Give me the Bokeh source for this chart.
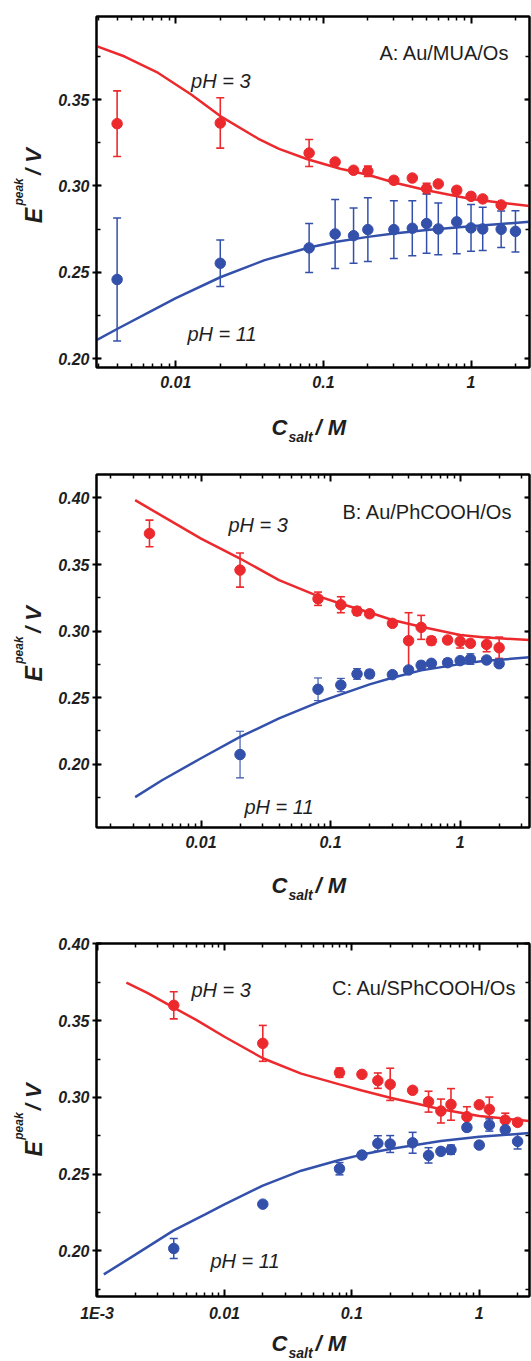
import math
from bokeh.plotting import figure
from bokeh.layouts import column, row
from bokeh.models import (ColumnDataSource, Whisker, TeeHead, Label, FixedTicker,
                          LogAxis, LinearAxis, CustomJSTickFormatter, PrintfTickFormatter,
                          SingleIntervalTicker, Range1d)
from bokeh.embed import file_html
from bokeh.resources import INLINE

# ---------------- data ----------------
# Panel A: Au/MUA/Os
xA_red = [0.004, 0.02, 0.08, 0.12, 0.16, 0.2, 0.3, 0.4, 0.5, 0.6, 0.8, 1.0, 1.2, 1.6]
yA_red = [0.3361, 0.3365, 0.3191, 0.3139, 0.3091, 0.3085, 0.3033, 0.3046, 0.2985, 0.3012, 0.2975, 0.2940, 0.2925, 0.2890]
eA_red = [0.019, 0.0146, 0.0078, 0.0, 0.0, 0.003, 0.002, 0.0, 0.003, 0.0, 0.002, 0.0, 0.0, 0.0]
xA_blue = [0.004, 0.02, 0.08, 0.12, 0.16, 0.2, 0.3, 0.4, 0.5, 0.6, 0.8, 1.0, 1.2, 1.6, 2.0]
yA_blue = [0.2458, 0.2552, 0.2641, 0.2722, 0.2712, 0.2747, 0.2747, 0.2755, 0.2782, 0.2751, 0.2792, 0.2757, 0.2751, 0.2749, 0.2737]
eA_blue = [0.0357, 0.0135, 0.0142, 0.020, 0.016, 0.0185, 0.0167, 0.016, 0.0172, 0.015, 0.0185, 0.0135, 0.0125, 0.0106, 0.012]
fitA_red_x = [0.0029, 0.0045, 0.0076, 0.0127, 0.02, 0.036, 0.05, 0.078, 0.13, 0.2, 0.3, 0.5, 1.0, 1.6, 2.49]
fitA_red_y = [0.381, 0.375, 0.3655, 0.353, 0.3405, 0.3275, 0.3215, 0.3155, 0.310, 0.3065, 0.302, 0.2975, 0.2925, 0.2903, 0.2884]
fitA_blue_x = [0.0029, 0.004, 0.007, 0.01, 0.02, 0.04, 0.08, 0.12, 0.2, 0.3, 0.5, 1.0, 2.49]
fitA_blue_y = [0.2106, 0.2171, 0.228, 0.235, 0.2471, 0.257, 0.2643, 0.2675, 0.2705, 0.2725, 0.2745, 0.2766, 0.2792]

# Panel B: Au/PhCOOH/Os
xB_red = [0.004, 0.02, 0.08, 0.12, 0.16, 0.2, 0.3, 0.4, 0.5, 0.6, 0.8, 1.0, 1.2, 1.6, 2.0]
yB_red = [0.3733, 0.3458, 0.3243, 0.3198, 0.3150, 0.3130, 0.3058, 0.2928, 0.3028, 0.2928, 0.2933, 0.2923, 0.2908, 0.2900, 0.2875]
eB_red = [0.010, 0.0128, 0.005, 0.006, 0.003, 0.002, 0.002, 0.021, 0.009, 0.003, 0.002, 0.005, 0.002, 0.0055, 0.008]
xB_blue = [0.02, 0.08, 0.12, 0.16, 0.2, 0.3, 0.4, 0.5, 0.6, 0.8, 1.0, 1.2, 1.6, 2.0]
yB_blue = [0.2073, 0.2563, 0.2595, 0.2678, 0.2678, 0.2673, 0.2708, 0.2743, 0.2758, 0.2763, 0.2778, 0.2790, 0.2783, 0.2755]
eB_blue = [0.0175, 0.0085, 0.005, 0.004, 0.003, 0.002, 0.002, 0.003, 0.002, 0.003, 0.002, 0.004, 0.002, 0.002]
fitB_red_x = [0.0031, 0.005, 0.01, 0.02, 0.04, 0.08, 0.12, 0.2, 0.3, 0.5, 1.0, 1.5, 3.43]
fitB_red_y = [0.3983, 0.3865, 0.3695, 0.3545, 0.3383, 0.3263, 0.3205, 0.3140, 0.3083, 0.3033, 0.2970, 0.2953, 0.2933]
fitB_blue_x = [0.0031, 0.005, 0.01, 0.02, 0.04, 0.08, 0.12, 0.2, 0.3, 0.5, 1.0, 1.5, 3.43]
fitB_blue_y = [0.1753, 0.188, 0.2045, 0.2205, 0.2345, 0.2465, 0.2525, 0.2600, 0.2650, 0.2705, 0.2752, 0.2775, 0.2803]

# Panel C: Au/SPhCOOH/Os
xC_red = [0.004, 0.02, 0.08, 0.12, 0.16, 0.2, 0.3, 0.4, 0.5, 0.6, 0.8, 1.0, 1.2, 1.6, 2.0]
yC_red = [0.3600, 0.3352, 0.3161, 0.3150, 0.3109, 0.3085, 0.3046, 0.2972, 0.2911, 0.2954, 0.2874, 0.2952, 0.2922, 0.2852, 0.2837]
eC_red = [0.0088, 0.0117, 0.003, 0.0, 0.005, 0.0105, 0.0, 0.0068, 0.0078, 0.0103, 0.0065, 0.0, 0.008, 0.0045, 0.002]
xC_blue = [0.004, 0.02, 0.08, 0.12, 0.16, 0.2, 0.3, 0.4, 0.5, 0.6, 0.8, 1.0, 1.2, 1.6, 2.0]
yC_blue = [0.2015, 0.2304, 0.2535, 0.2624, 0.2700, 0.2696, 0.2704, 0.2622, 0.2648, 0.2659, 0.2804, 0.2689, 0.2820, 0.2789, 0.2713]
eC_blue = [0.0065, 0.0, 0.004, 0.002, 0.005, 0.0055, 0.0068, 0.005, 0.002, 0.003, 0.002, 0.002, 0.004, 0.002, 0.005]
fitC_red_x = [0.0017, 0.0025, 0.004, 0.006, 0.01, 0.02, 0.04, 0.08, 0.12, 0.2, 0.3, 0.5, 1.0, 2.48]
fitC_red_y = [0.3748, 0.368, 0.3585, 0.3505, 0.3395, 0.3255, 0.3155, 0.3085, 0.3045, 0.2998, 0.2965, 0.2922, 0.2878, 0.2846]
fitC_blue_x = [0.00113, 0.002, 0.004, 0.007, 0.01, 0.02, 0.04, 0.08, 0.12, 0.2, 0.5, 1.0, 2.48]
fitC_blue_y = [0.1846, 0.1975, 0.2133, 0.2235, 0.2302, 0.2425, 0.2522, 0.2592, 0.2627, 0.2663, 0.2715, 0.2743, 0.2767]

x_tick_values = [0.001, 0.01, 0.1, 1.0]
x_tick_labels = ["1E-3", "0.01", "0.1", "1"]
x_minor_ticks = [m * 10.0 ** e for e in (-4, -3, -2, -1, 0) for m in range(2, 10)]

panel_titles = ["A: Au/MUA/Os", "B: Au/PhCOOH/Os", "C: Au/SPhCOOH/Os"]
label_low = "pH = 3"
label_high = "pH = 11"

RED = "#ec2a2e"
BLUE = "#3350ab"
TXT = "#1e1e1e"
FONT = "Liberation Sans"

W = 531
STRIP_W = 55


def blank_fig(w, h):
    f = figure(width=w, height=h, x_range=Range1d(0, w), y_range=Range1d(0, h),
               output_backend="svg", toolbar_location=None, min_border=0)
    f.axis.visible = False
    f.grid.visible = False
    f.outline_line_color = None
    f.background_fill_color = "white"
    f.border_fill_color = "white"
    return f


def make_panel(main_h, top, bottom, strip_h, xt_base, xr, yr, red, blue, fit_red, fit_blue,
               title, title_pos, low_pos, high_pos, blue_err_w=1.5):
    p = figure(width=W - STRIP_W, height=main_h, x_axis_type="log",
               x_range=Range1d(*xr), y_range=Range1d(*yr),
               output_backend="svg", toolbar_location=None,
               min_border_left=95 - STRIP_W, min_border_right=2,
               min_border_top=top, min_border_bottom=bottom)
    p.grid.visible = False
    p.outline_line_color = "black"
    p.outline_line_width = 2
    p.background_fill_color = "white"
    p.border_fill_color = "white"

    fmt = CustomJSTickFormatter(args=dict(t=x_tick_values, l=x_tick_labels), code="""
        let best = 0;
        for (let i = 0; i < t.length; i++) {
            if (Math.abs(Math.log10(tick) - Math.log10(t[i])) <
                Math.abs(Math.log10(tick) - Math.log10(t[best]))) best = i;
        }
        return l[best];
    """)
    blank = CustomJSTickFormatter(code="return '';")

    xa = p.xaxis[0]
    xa.ticker = FixedTicker(ticks=x_tick_values, minor_ticks=x_minor_ticks)
    xa.formatter = fmt
    ya = p.yaxis[0]
    ya.ticker = SingleIntervalTicker(interval=0.05, num_minor_ticks=2)
    ya.formatter = PrintfTickFormatter(format="%.2f")

    top_ax = LogAxis(ticker=FixedTicker(ticks=x_tick_values, minor_ticks=x_minor_ticks),
                     formatter=blank, major_label_standoff=0)
    right_ax = LinearAxis(ticker=SingleIntervalTicker(interval=0.05, num_minor_ticks=2),
                          formatter=blank, major_label_standoff=0)
    p.add_layout(top_ax, "above")
    p.add_layout(right_ax, "right")

    for ax in (xa, ya, top_ax, right_ax):
        ax.axis_line_width = 2
        ax.axis_line_color = "black"
        ax.major_tick_line_width = 2
        ax.minor_tick_line_width = 1.5
        ax.major_tick_line_color = "black"
        ax.minor_tick_line_color = "black"
        ax.major_label_text_font = FONT
        ax.major_label_text_font_style = "bold italic"
        ax.major_label_text_font_size = "16px"
        ax.major_label_text_color = TXT
    top_ax.major_label_text_font_size = "2px"
    right_ax.major_label_text_font_size = "2px"
    for ax in (xa, top_ax):
        ax.major_tick_in = 7
        ax.major_tick_out = 0
        ax.minor_tick_in = 4
        ax.minor_tick_out = 0
    for ax in (ya, right_ax):
        ax.major_tick_in = 5
        ax.minor_tick_in = 4
        ax.minor_tick_out = 0
    ya.major_tick_out = 4
    right_ax.major_tick_out = 0
    xa.major_label_standoff = 8
    ya.major_label_standoff = 3

    # fitted curves
    p.line(fit_red[0], fit_red[1], line_color=RED, line_width=2.5)
    p.line(fit_blue[0], fit_blue[1], line_color=BLUE, line_width=2.5)

    # error bars + points
    for (xs, ys, es), col, lw in ((red, RED, 1.6), (blue, BLUE, blue_err_w)):
        src = ColumnDataSource(dict(x=xs, y=ys,
                                    upper=[y + e for y, e in zip(ys, es)],
                                    lower=[y - e for y, e in zip(ys, es)]))
        w = Whisker(source=src, base="x", upper="upper", lower="lower", dimension="height",
                    line_color=col, line_width=lw,
                    upper_head=TeeHead(size=8, line_color=col, line_width=lw),
                    lower_head=TeeHead(size=8, line_color=col, line_width=lw))
        p.add_layout(w)
        p.scatter("x", "y", source=src, size=10.5, marker="circle",
                  fill_color=col, line_color=col)

    # in-frame annotations
    p.add_layout(Label(x=title_pos[0], y=title_pos[1], x_units="screen", y_units="screen",
                       text=title, text_font=FONT, text_font_size="20px",
                       text_color=TXT, text_align="right", text_baseline="alphabetic"))
    for pos, txt in ((low_pos, label_low), (high_pos, label_high)):
        p.add_layout(Label(x=pos[0], y=pos[1], x_units="screen", y_units="screen",
                           text=txt, text_font=FONT, text_font_size="20px",
                           text_font_style="italic", text_color=TXT,
                           text_align="left", text_baseline="alphabetic"))

    # left strip with y title: E^peak / V
    fh = main_h - top - bottom
    ys_strip = blank_fig(STRIP_W, main_h)
    c = main_h - (top + fh / 2.0)
    for txt, xs, yy, fs in (("E", 33, c - 44, "23px"), ("peak", 18.5, c - 24, "12px"),
                            ("/ V", 33, c + 11, "22px")):
        ys_strip.add_layout(Label(x=xs, y=yy, text=txt,
                                  text_font=FONT, text_font_style="bold italic", text_font_size=fs,
                                  text_color=TXT, angle=math.pi / 2, text_align="left",
                                  text_baseline="alphabetic"))

    # bottom strip with x title: C_salt / M
    xs_strip = blank_fig(W, strip_h)
    for txt, xx, yy, fs in (("C", 271, xt_base, "22px"), ("salt", 288, xt_base - 9, "14px"),
                            ("/ M", 315, xt_base, "22px")):
        xs_strip.add_layout(Label(x=xx, y=yy, text=txt,
                                  text_font=FONT, text_font_style="bold italic", text_font_size=fs,
                                  text_color=TXT, text_align="left", text_baseline="alphabetic"))

    return column(row(ys_strip, p, spacing=0), xs_strip, spacing=0)


# page layout: A 0-460, B 460-910, C 910-1361
pA = make_panel(400, 16, 33, 60, 33, (0.0029, 2.49), (0.1948, 0.3982),
                (xA_red, yA_red, eA_red), (xA_blue, yA_blue, eA_blue),
                (fitA_red_x, fitA_red_y), (fitA_blue_x, fitA_blue_y),
                panel_titles[0], (413, 315), (94.6, 287), (91, 34))
pB = make_panel(400, 14, 33, 50, 25, (0.00156, 3.43), (0.1525, 0.4176),
                (xB_red, yB_red, eB_red), (xB_blue, yB_blue, eB_blue),
                (fitB_red_x, fitB_red_y), (fitB_blue_x, fitB_blue_y),
                panel_titles[1], (416, 316), (132, 303), (148, 21), blue_err_w=1.1)
pC = make_panel(420, 33, 34, 31, 18, (0.00099, 2.48), (0.1702, 0.4003),
                (xC_red, yC_red, eC_red), (xC_blue, yC_blue, eC_blue),
                (fitC_red_x, fitC_red_y), (fitC_blue_x, fitC_blue_y),
                panel_titles[2], (420, 309), (95, 307), (114, 36))

layout = column(pA, pB, pC, spacing=0)
open("out.html", "w").write(file_html(layout, INLINE))
